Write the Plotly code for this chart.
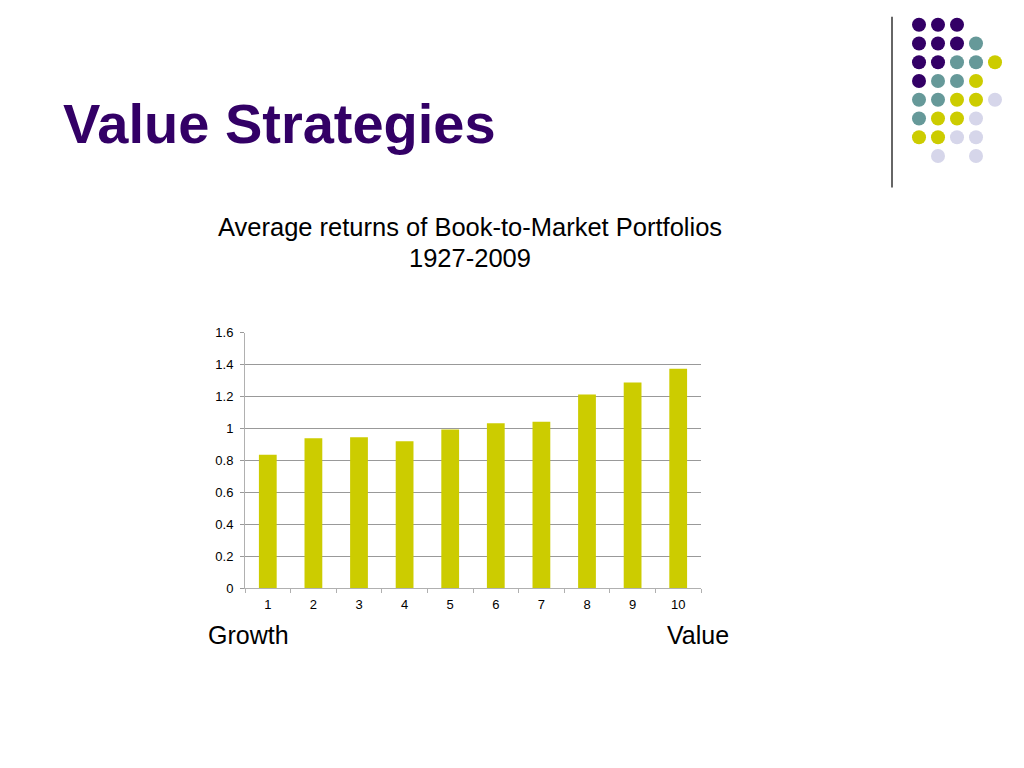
import plotly.graph_objects as go

# book-to-market deciles, 1 = growth ... 10 = value
deciles = ["1", "2", "3", "4", "5", "6", "7", "8", "9", "10"]
avg_returns = [0.835, 0.939, 0.945, 0.920, 0.993, 1.032, 1.042, 1.212, 1.287, 1.374]
y_ticks = [0, 0.2, 0.4, 0.6, 0.8, 1, 1.2, 1.4, 1.6]
y_tick_text = ["0", "0.2", "0.4", "0.6", "0.8", "1", "1.2", "1.4", "1.6"]

# corner decoration (slide theme dots)
dot_cols = [0, 1, 2,
            0, 1, 2, 3,
            0, 1, 2, 3, 4,
            0, 1, 2, 3,
            0, 1, 2, 3, 4,
            0, 1, 2, 3,
            0, 1, 2, 3,
            1, 3]
dot_rows = [0, 0, 0,
            1, 1, 1, 1,
            2, 2, 2, 2, 2,
            3, 3, 3, 3,
            4, 4, 4, 4, 4,
            5, 5, 5, 5,
            6, 6, 6, 6,
            7, 7]
P, T, Y, L = "#330066", "#669999", "#cccc00", "#d6d6ea"
dot_colors = [P, P, P,
              P, P, P, T,
              P, P, T, T, Y,
              P, T, T, Y,
              T, T, Y, Y, L,
              T, Y, Y, L,
              Y, Y, L, L,
              L, L]

font = "Liberation Sans, Arial, sans-serif"

fig = go.Figure()
fig.add_trace(go.Bar(x=deciles, y=avg_returns, marker_color="#cccc00",
                     marker_line_width=0, showlegend=False))
fig.add_trace(go.Scatter(x=dot_cols, y=dot_rows, mode="markers",
                         marker=dict(size=14, color=dot_colors, line_width=0),
                         xaxis="x2", yaxis="y2", showlegend=False))

fig.update_layout(
    width=1024, height=768,
    margin=dict(l=0, r=0, t=0, b=0),
    paper_bgcolor="white", plot_bgcolor="white",
    font=dict(family=font, color="#000000"),
    bargap=0.61,
    xaxis=dict(domain=[245 / 1024, 701 / 1024], type="category",
               showline=True, linecolor="#b0b0b0", linewidth=1,
               ticks="outside", tickson="boundaries", ticklen=4, tickcolor="#b0b0b0",
               ticklabelstandoff=4,
               tickfont=dict(size=13, color="#000000"), showgrid=False),
    yaxis=dict(domain=[175 / 768, 436 / 768], range=[0, 1.6],
               tickvals=y_ticks, ticktext=y_tick_text,
               showline=True, linecolor="#b0b0b0", linewidth=1,
               ticks="outside", ticklen=4, tickcolor="#999999",
               ticklabelstandoff=4,
               showgrid=True, gridcolor="#999999", gridwidth=1,
               zeroline=False, tickfont=dict(size=13, color="#000000")),
    xaxis2=dict(domain=[909.5 / 1024, 1004.5 / 1024], range=[-0.5, 4.5],
                visible=False, anchor="y2"),
    yaxis2=dict(domain=[1 - 161.5 / 768, 1 - 8.5 / 768], range=[7.5, -0.5],
                visible=False, anchor="x2"),
    shapes=[dict(type="line", xref="paper", yref="paper",
                 x0=892 / 1024, x1=892 / 1024, y0=1 - 184 / 768, y1=1 - 10 / 768,
                 line=dict(color="#333333", width=1.5))],
    annotations=[
        dict(text="<b>Value Strategies</b>", xref="paper", yref="paper",
             x=61 / 1024, y=1 - 118.5 / 768, xanchor="left", yanchor="middle",
             showarrow=False, font=dict(size=56, color="#330066")),
        dict(text="Average returns of Book-to-Market Portfolios",
             xref="paper", yref="paper", x=470 / 1024, y=1 - 224.5 / 768,
             xanchor="center", yanchor="middle", showarrow=False,
             font=dict(size=25.5)),
        dict(text="1927-2009",
             xref="paper", yref="paper", x=470 / 1024, y=1 - 256 / 768,
             xanchor="center", yanchor="middle", showarrow=False,
             font=dict(size=25.5)),
        dict(text="Growth", xref="paper", yref="paper", x=206 / 1024, y=1 - 641 / 768,
             xanchor="left", yanchor="middle", showarrow=False, font=dict(size=25)),
        dict(text="Value", xref="paper", yref="paper", x=731 / 1024, y=1 - 641 / 768,
             xanchor="right", yanchor="middle", showarrow=False, font=dict(size=25)),
    ],
)

# pin the figure to the top-left corner so the page is exactly 1024x768
pin = ("document.body.style.margin='0';"
       "document.body.style.overflow='hidden';"
       "var d=document.getElementById('{plot_id}');"
       "d.style.position='absolute';d.style.left='0';d.style.top='0';")
fig.write_html("out.html", config={"displayModeBar": False}, post_script=pin)
